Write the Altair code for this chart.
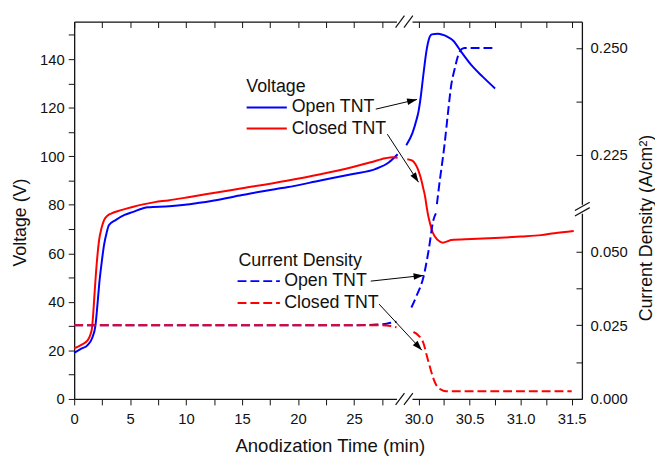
import math
import altair as alt
import pandas as pd

FONT = "Liberation Sans"
INK = "#111111"
BLUE = "#0000ff"
RED = "#ff0000"

# ---------------- data ----------------
# Voltage (V), Open TNT - first time segment (0 .. 29 min)
vo_L_t = [0, 0.6, 1.2, 1.6, 1.9, 2.1, 2.25, 2.45, 2.67, 2.9, 3.1, 3.7, 4.5, 5.2, 6.6, 8.5, 9.9, 11.0,
          12.5, 15.0, 17.0, 19.0, 22.0, 24.9, 26.9, 28.1, 28.9]
vo_L_v = [19.0, 20.6, 22.2, 25.0, 30.2, 40.0, 48.0, 56.0, 63.5, 68.5, 71.6, 73.7, 75.8, 77.0, 79.0, 79.4,
          80.0, 80.7, 81.8, 84.0, 85.7, 87.2, 90.0, 92.7, 94.7, 97.4, 100.8]
# Voltage (V), Open TNT - second time segment (after the break)
vo_R_t = [29.88, 29.94, 29.98, 30.0, 30.02, 30.04, 30.06, 30.08, 30.10, 30.13, 30.19, 30.24, 30.28,
          30.34, 30.42, 30.52, 30.63, 30.75]
vo_R_v = [104.5, 109.5, 115.0, 118.5, 124.0, 131.0, 138.0, 144.0, 148.0, 150.2, 150.5, 150.0, 149.3,
          147.6, 142.9, 137.4, 132.7, 127.9]
# Voltage (V), Closed TNT
vc_L_t = [0, 0.6, 1.2, 1.45, 1.6, 1.7, 1.8, 2.0, 2.23, 2.45, 2.67, 3.0, 3.3, 4.2, 5.2, 7.2, 8.4, 10.2,
          13.0, 15.0, 19.0, 22.0, 24.9, 26.5, 27.8, 28.5, 28.9]
vc_L_v = [20.8, 22.2, 24.1, 26.5, 29.5, 35.0, 42.0, 55.0, 65.5, 70.5, 73.7, 75.6, 76.4, 77.8, 79.1, 81.1,
          81.8, 83.1, 85.3, 86.8, 89.9, 92.6, 95.6, 97.5, 99.2, 99.6, 99.4]
vc_R_t = [29.89, 29.94, 29.97, 30.0, 30.02, 30.045, 30.065, 30.08, 30.097, 30.115, 30.13, 30.16, 30.21,
          30.24, 30.28, 30.32, 30.52, 30.75, 31.0, 31.2, 31.33, 31.52]
vc_R_v = [98.8, 98.2, 96.7, 94.0, 91.3, 87.0, 83.2, 79.0, 75.0, 72.0, 69.6, 66.9, 64.8, 64.4, 64.9, 65.5,
          65.9, 66.3, 66.9, 67.5, 68.3, 69.2]

# Current density (A/cm^2), Open TNT
co_L_t = [0, 25.0, 27.0, 28.0, 28.8]
co_L_c = [0.025, 0.025, 0.0252, 0.0256, 0.0262]
co_Rlow_t = [29.93, 29.98, 30.05, 30.10, 30.145, 30.17]
co_Rlow_c = [0.031, 0.0349, 0.0416, 0.0506, 0.0606, 0.0629]
co_Rup_t = [30.18, 30.20, 30.255, 30.29, 30.32, 30.355, 30.387, 30.42, 30.45, 30.755]
co_Rup_c = [0.2135, 0.2175, 0.2275, 0.2352, 0.2413, 0.2452, 0.2482, 0.2497, 0.250, 0.250]
# Current density (A/cm^2), Closed TNT
cc_L_t = [0, 27.5, 28.3, 28.8]
cc_L_c = [0.025, 0.025, 0.0247, 0.0243]
cc_R_t = [29.95, 30.0, 30.05, 30.08, 30.115, 30.145, 30.18, 30.225, 30.27, 31.5]
cc_R_c = [0.0227, 0.0215, 0.0187, 0.0148, 0.0104, 0.007, 0.0043, 0.0031, 0.0026, 0.0026]

# ticks
x_ticks_left = [0, 2.5, 5, 7.5, 10, 12.5, 15, 17.5, 20, 22.5, 25, 27.5]
x_ticks_right = [30.0, 30.25, 30.5, 30.75, 31.0, 31.25, 31.5]
v_ticks = [0, 10, 20, 30, 40, 50, 60, 70, 80, 90, 100, 110, 120, 130, 140, 150]
c_ticks_low = [0.0, 0.0125, 0.025, 0.0375, 0.05]
c_ticks_up = [0.225, 0.2375, 0.25]

# annotations (in time / voltage units)
head_text = ["Voltage", "Current Density"]
head_t = [15.38, 14.68]
head_v = [126.6, 54.9]
lab_text = ["Open TNT", "Closed TNT", "Open TNT", "Closed TNT"]
lab_t = [19.44, 19.44, 18.76, 18.76]
lab_v = [120.06, 111.4, 48.55, 39.5]
key_t1 = [15.41, 15.41, 14.6, 14.6]
key_t2 = [19.0, 19.0, 18.38, 18.38]
key_v = [120.06, 111.4, 48.55, 39.5]
arr_t1 = [26.95, 27.98, 26.5, 27.24]
arr_v1 = [119.4, 109.1, 48.55, 39.1]
arr_t2 = [30.63, 30.77, 31.21, 31.07]
arr_v2 = [123.4, 89.3, 50.9, 20.1]

# ---------------- scales ----------------
W, H = 514, 382
sL = alt.Scale(domain=[0, 28.8], range=[0, 326.3], nice=False, zero=False)
sR = alt.Scale(domain=[29.936, 31.6], range=[342, W], nice=False, zero=False)
sV = alt.Scale(domain=[0, 155.47], range=[H, 0], nice=False, zero=False)
sCL = alt.Scale(domain=[0, 0.06295], range=[H, 194], nice=False, zero=False)
sCU = alt.Scale(domain=[0.21346, 0.25616], range=[185, 0], nice=False, zero=False)

PX_T = 326.3 / 28.8      # px per minute, left segment
PX_V = H / 155.47        # px per volt
PX_TR = 172 / (31.6 - 29.936)
PX_C = 188 / 0.06295
INWARD = alt.ExprRef(expr="-6")

ax_bottom_L = alt.Axis(orient="bottom", values=x_ticks_left,
                       labelExpr="datum.value % 5 == 0 ? format(datum.value, 'd') : ''",
                       title="Anodization Time (min)", titleX=258.8, titleY=53, titleFontSize=18.8,
                       titleBaseline="alphabetic", titleAlign="center", labelPadding=7)
ax_bottom_R = alt.Axis(orient="bottom", values=x_ticks_right,
                       labelExpr="(datum.value * 2) % 1 == 0 ? format(datum.value, '.1f') : ''",
                       title=None, labelPadding=7)
ax_left_V = alt.Axis(orient="left", values=v_ticks,
                     labelExpr="datum.value % 20 == 0 ? format(datum.value, 'd') : ''",
                     title="Voltage (V)", titleAngle=270, titleX=-49.7, titleY=203,
                     titleBaseline="alphabetic", titleAlign="center", labelPadding=4)
ax_right_low = alt.Axis(orient="right", values=c_ticks_low, tickSize=INWARD, labelPadding=14.3,
                        labelExpr="abs(datum.value*40 - round(datum.value*40)) < 1e-6 ? format(datum.value, '.3f') : ''",
                        title="Current Density (A/cm²)", titleAngle=270, titleX=70, titleY=208.5,
                        titleBaseline="alphabetic", titleAlign="center")
ax_right_up = alt.Axis(orient="right", values=c_ticks_up, tickSize=INWARD, labelPadding=14.3,
                       labelExpr="abs(datum.value*40 - round(datum.value*40)) < 1e-6 ? format(datum.value, '.3f') : ''",
                       title=None)
ax_top_L = alt.Axis(orient="top", values=x_ticks_left, labels=False, title=None, tickSize=INWARD)
ax_top_R = alt.Axis(orient="top", values=x_ticks_right, labels=False, title=None, tickSize=INWARD)


def curve(ts, vs, xs, ys, color, dashed=False, xaxis=None, yaxis=None):
    df = pd.DataFrame({"t": ts, "v": vs})
    kw = dict(color=color, strokeWidth=2, interpolate="monotone")
    if dashed:
        kw["strokeDash"] = [9, 4]
    return alt.Chart(df).mark_line(**kw).encode(
        x=alt.X("t:Q", scale=xs, axis=xaxis),
        y=alt.Y("v:Q", scale=ys, axis=yaxis),
    )


layers = [
    curve(vo_L_t, vo_L_v, sL, sV, BLUE, xaxis=ax_bottom_L, yaxis=ax_left_V),
    curve(vo_R_t, vo_R_v, sR, sV, BLUE, xaxis=ax_bottom_R),
    curve(vc_L_t, vc_L_v, sL, sV, RED),
    curve(vc_R_t, vc_R_v, sR, sV, RED),
    curve(co_L_t, co_L_c, sL, sCL, BLUE, dashed=True, yaxis=ax_right_low),
    curve(co_Rlow_t, co_Rlow_c, sR, sCL, BLUE, dashed=True),
    curve(co_Rup_t, co_Rup_c, sR, sCU, BLUE, dashed=True, yaxis=ax_right_up),
    curve(cc_L_t, cc_L_c, sL, sCL, RED, dashed=True),
    curve(cc_R_t, cc_R_c, sR, sCL, RED, dashed=True),
]

# top frame axes
layers.append(alt.Chart(pd.DataFrame({"t": [0.0]})).mark_point(opacity=0).encode(
    x=alt.X("t:Q", scale=sL, axis=ax_top_L)))
layers.append(alt.Chart(pd.DataFrame({"t": [30.0]})).mark_point(opacity=0).encode(
    x=alt.X("t:Q", scale=sR, axis=ax_top_R)))

# legend keys
keys = pd.DataFrame({"t1": key_t1, "t2": key_t2, "v": key_v, "c": [BLUE, RED, BLUE, RED]})
layers.append(alt.Chart(keys.iloc[:2]).mark_rule(strokeWidth=2).encode(
    x=alt.X("t1:Q", scale=sL, axis=None), x2="t2:Q",
    y=alt.Y("v:Q", scale=sV, axis=None), color=alt.Color("c:N", scale=None)))
layers.append(alt.Chart(keys.iloc[2:]).mark_rule(strokeWidth=2, strokeDash=[9, 4]).encode(
    x=alt.X("t1:Q", scale=sL, axis=None), x2="t2:Q",
    y=alt.Y("v:Q", scale=sV, axis=None), color=alt.Color("c:N", scale=None)))

# legend text
layers.append(alt.Chart(pd.DataFrame({"t": head_t, "v": head_v, "s": head_text})).mark_text(
    font=FONT, fontSize=18, align="left", baseline="alphabetic", color=INK).encode(
    x=alt.X("t:Q", scale=sL, axis=None), y=alt.Y("v:Q", scale=sV, axis=None), text="s:N"))
layers.append(alt.Chart(pd.DataFrame({"t": lab_t, "v": lab_v, "s": lab_text})).mark_text(
    font=FONT, fontSize=18, align="left", baseline="middle", color=INK).encode(
    x=alt.X("t:Q", scale=sL, axis=None), y=alt.Y("v:Q", scale=sV, axis=None), text="s:N"))

# arrows
ang = [math.degrees(math.atan2(-(b2 - b1) * PX_V, (a2 - a1) * PX_T)) % 360
       for a1, b1, a2, b2 in zip(arr_t1, arr_v1, arr_t2, arr_v2)]
arrows = pd.DataFrame({"t1": arr_t1, "v1": arr_v1, "t2": arr_t2, "v2": arr_v2, "a": ang})
layers.append(alt.Chart(arrows).mark_rule(color="black", strokeWidth=1).encode(
    x=alt.X("t1:Q", scale=sL, axis=None), x2="t2:Q",
    y=alt.Y("v1:Q", scale=sV, axis=None), y2="v2:Q"))
layers.append(alt.Chart(arrows).mark_point(shape="M0,0L-1,-0.33L-1,0.33Z", filled=True, size=400,
                                           color="black", opacity=1, strokeWidth=0).encode(
    x=alt.X("t2:Q", scale=sL, axis=None), y=alt.Y("v2:Q", scale=sV, axis=None),
    angle=alt.Angle("a:Q", scale=None)))

# axis break marks "//"
bx_c = 29.49
rows = []
for yc in [0.0, 155.47]:
    for d in [-4.25, 4.25]:
        rows.append({"x1": bx_c + (d - 4.5) / PX_T, "x2": bx_c + (d + 4.5) / PX_T,
                     "y1": yc - 6 / PX_V, "y2": yc + 6 / PX_V})
brk_x = pd.DataFrame(rows)
layers.append(alt.Chart(brk_x).mark_rule(color=INK, strokeWidth=1.2).encode(
    x=alt.X("x1:Q", scale=sL, axis=None), x2="x2:Q",
    y=alt.Y("y1:Q", scale=sV, axis=None), y2="y2:Q"))
rows = []
by_c = 31.604
for ypx in [206.0, 211.5]:
    yc = (401 - ypx) * 0.025 / 74.67
    rows.append({"x1": by_c - 7.5 / PX_TR, "x2": by_c + 7.5 / PX_TR,
                 "y1": yc - 4.2 / PX_C, "y2": yc + 4.2 / PX_C})
brk_y = pd.DataFrame(rows)
layers.append(alt.Chart(brk_y).mark_rule(color=INK, strokeWidth=1.2).encode(
    x=alt.X("x1:Q", scale=sR, axis=None), x2="x2:Q",
    y=alt.Y("y1:Q", scale=sCL, axis=None), y2="y2:Q"))

chart = alt.layer(*layers).resolve_scale(x="independent", y="independent").properties(
    width=W, height=H,
    autosize=alt.AutoSizeParams(type="none"),
    padding={"left": 67, "top": 11, "right": 74, "bottom": 57},
).configure_view(stroke=None).configure_axis(
    grid=False, labelFont=FONT, titleFont=FONT, labelFontSize=15, titleFontSize=18,
    titleFontWeight="normal", labelColor=INK, titleColor=INK, domainColor=INK, tickColor=INK,
    domainWidth=1.3, tickWidth=1, tickSize=6, labelFlush=False, labelOverlap=False,
)

chart.save("out.html", embed_options={"renderer": "svg", "actions": False})
